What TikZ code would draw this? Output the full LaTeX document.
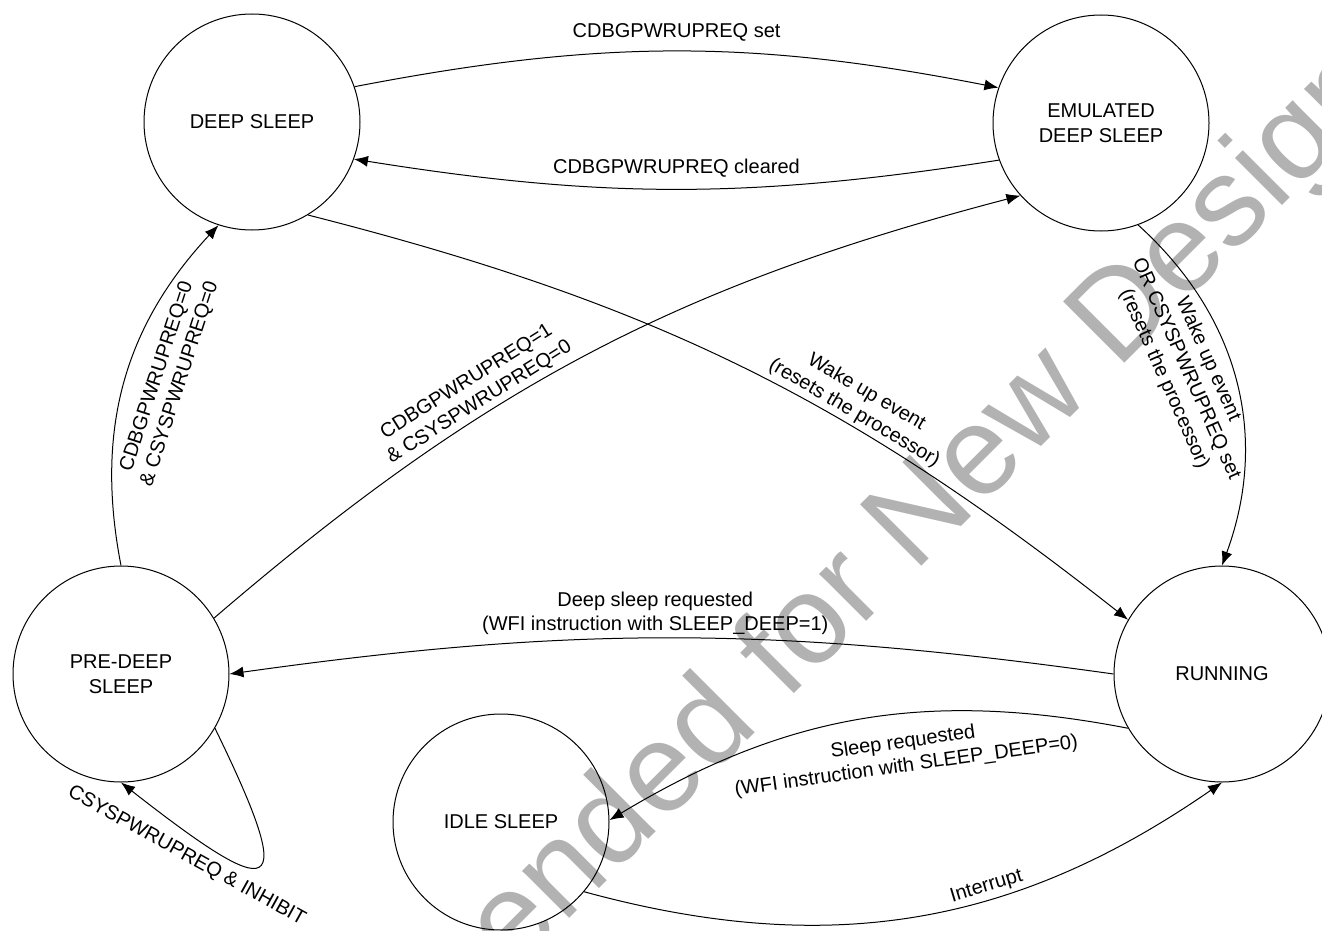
\documentclass[tikz,border=0pt]{standalone}
\usepackage{fontspec}
\setmainfont{Liberation Sans}
\usetikzlibrary{arrows.meta}

\tikzset{
  powerstate/.style={circle, draw, line width=0.5pt, minimum size=108pt, inner sep=0pt, align=center, font=\fontsize{10}{12.5}\selectfont},
  trans/.style={-{Latex[length=7pt,width=5.5pt]}, line width=0.5pt},
  lbl/.style={font=\fontsize{10}{12}\selectfont, align=center, inner sep=1.5pt},
  watermark/.style={font=\fontsize{63}{68}\selectfont, text=black!30, rotate=45, inner sep=0pt}
}

\begin{document}
\begin{tikzpicture}[x=0.5pt, y=0.5pt]
		\useasboundingbox (0,0) rectangle (1322,-931);
		% watermark, behind everything
		\node[watermark] (wm) at (694,-748) {Not Recommended for New Designs};
		
		% states
		\node[powerstate] (deep) at (252,-122) {DEEP SLEEP};
		\node[powerstate] (emu) at (1101,-123) {EMULATED\\DEEP SLEEP};
		\node[powerstate] (pre) at (121,-674) {PRE-DEEP\\SLEEP};
		\node[powerstate] (idle) at (501,-822) {IDLE SLEEP};
		\node[powerstate] (run) at (1222,-674) {RUNNING};
		
		% transitions
		\draw[trans] (deep.19) to[bend left=11] node[above=3pt, lbl] {CDBGPWRUPREQ set} (emu.161);
		\draw[trans] (emu.200) to[bend left=9] node[above=4pt, lbl] {CDBGPWRUPREQ cleared} (deep.-20);
		\draw[trans] (deep.-59) to[bend left=12] node[pos=0.64, sloped, above, lbl] {Wake up event\\(resets the processor)} (run.150);
		\draw[trans] (pre.90) to[bend left=27] node[pos=0.5, xshift=22pt, yshift=1pt, rotate=72, lbl] {CDBGPWRUPREQ=0\\\& CSYSPWRUPREQ=0} (deep.-108);
		\draw[trans] (pre.31) to[bend left=13] node[pos=0.36, sloped, above, lbl] {CDBGPWRUPREQ=1\\\& CSYSPWRUPREQ=0} (emu.-138);
		\draw[trans] (emu.-70) to[bend left=34] node[pos=0.42, xshift=-4pt, rotate=-66, anchor=north, lbl] {Wake up event\\OR CSYSPWRUPREQ set\\(resets the processor)} (run.90);
		\draw[trans] (run.180) to[bend right=8] node[pos=0.52, above, lbl] {Deep sleep requested\\(WFI instruction with SLEEP\_DEEP=1)} (pre.0);
		\draw[trans] (run.210) to[bend right=21] node[pos=0.42, rotate=8, anchor=north, yshift=-8pt, lbl] {Sleep requested\\(WFI instruction with SLEEP\_DEEP=0)} (idle.1);
		\draw[trans] (idle.-40) to[bend right=25] node[pos=0.62, sloped, above, lbl] {Interrupt} (run.-90);
		\draw[trans] (pre.-30) to[out=-64, in=-38, looseness=4.6] node[pos=0.75, xshift=-10pt, yshift=2pt, rotate=-29, anchor=north, lbl] {CSYSPWRUPREQ \& INHIBIT} (pre.-90);
		
\end{tikzpicture}
\end{document}
